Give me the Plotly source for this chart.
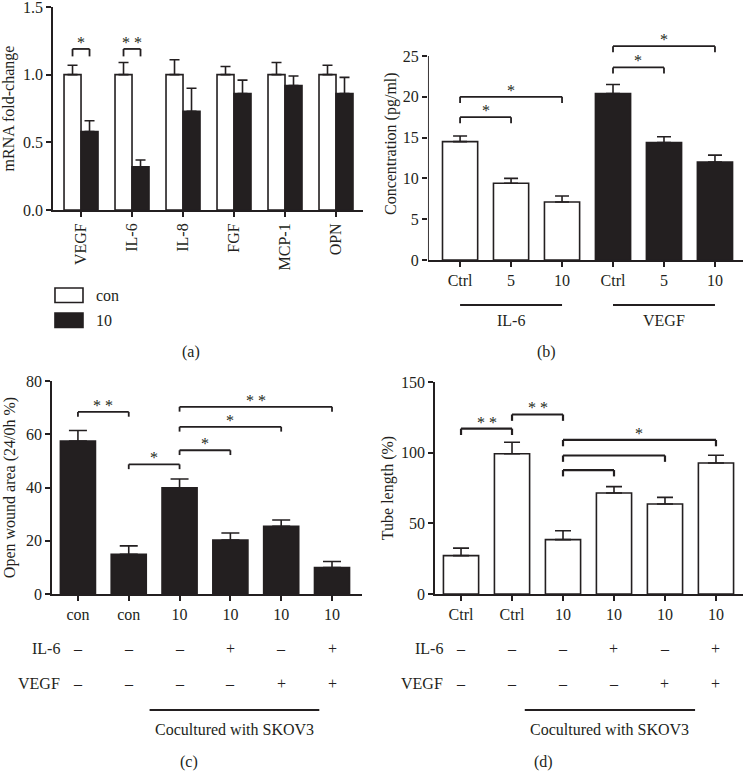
import plotly.graph_objects as go

# ---- data -----------------------------------------------------------------
# (a) mRNA fold-change
genes = ['VEGF', 'IL-6', 'IL-8', 'FGF', 'MCP-1', 'OPN']
groups_a = ['con', '10']
con_a = [1.0, 1.0, 1.0, 1.0, 1.0, 1.0]
con_a_err = [0.07, 0.09, 0.11, 0.06, 0.09, 0.07]
ten_a = [0.58, 0.32, 0.73, 0.86, 0.92, 0.86]
ten_a_err = [0.08, 0.05, 0.17, 0.10, 0.07, 0.12]

# (b) concentration
doses_b = ['Ctrl', '5', '10', 'Ctrl', '5', '10']
factors_b = ['IL-6', 'VEGF']
conc_b = [14.5, 9.4, 7.1, 20.4, 14.4, 12.0]
conc_b_err = [0.7, 0.6, 0.75, 1.1, 0.7, 0.85]

# (c) open wound area
cells_c = ['con', 'con', '10', '10', '10', '10']
wound_c = [57.5, 14.9, 39.9, 20.3, 25.4, 9.9]
wound_c_err = [3.9, 3.2, 3.3, 2.6, 2.4, 2.3]

# (d) tube length
cells_d = ['Ctrl', 'Ctrl', '10', '10', '10', '10']
tube_d = [27.2, 99.2, 38.5, 71.5, 63.7, 92.7]
tube_d_err = [5.3, 8.2, 6.3, 4.5, 4.7, 5.5]

il6_flags = ['–', '–', '–', '+', '–', '+']
vegf_flags = ['–', '–', '–', '–', '+', '+']

# significance brackets: (x0, x1, y, label)
sig_a = [(-1/6, 1/6, 1.19, '*'), (5/6, 7/6, 1.19, '* *')]
sig_b = [(0, 1, 17.5, '*'), (0, 2, 20.0, '*'), (3, 4, 23.6, '*'), (3, 5, 26.2, '*')]
sig_c = [(0, 1, 68.4, '* *'), (1, 2, 48.7, '*'), (2, 3, 54.0, '*'),
         (2, 4, 62.8, '*'), (2, 5, 70.3, '* *')]
sig_d = [(0, 1, 117, '* *'), (1, 2, 127, '* *'), (2, 5, 109, '*'),
         (2, 4, 98, ''), (2, 3, 87.7, '')]

# ---- style ----------------------------------------------------------------
INK = '#231f20'
FONT = 'Liberation Serif'
FS = 16
pos = list(range(6))

fig = go.Figure()

# (a)
fig.add_trace(go.Bar(x=pos, y=con_a, name=groups_a[0], xaxis='x', yaxis='y',
                     marker=dict(color='white', line=dict(color=INK, width=1.6)),
                     error_y=dict(type='data', array=con_a_err, arrayminus=[0]*6, symmetric=False,
                                  color=INK, thickness=1.6, width=5)))
fig.add_trace(go.Bar(x=pos, y=ten_a, name=groups_a[1], xaxis='x', yaxis='y',
                     marker=dict(color=INK, line=dict(color=INK, width=1.6)),
                     error_y=dict(type='data', array=ten_a_err, arrayminus=[0]*6, symmetric=False,
                                  color=INK, thickness=1.6, width=5)))

# (b)
fill_b = ['white'] * 3 + [INK] * 3
fig.add_trace(go.Bar(x=pos, y=conc_b, xaxis='x2', yaxis='y2', width=0.69,
                     marker=dict(color=fill_b, line=dict(color=INK, width=1.6)),
                     error_y=dict(type='data', array=conc_b_err, arrayminus=[0]*6, symmetric=False,
                                  color=INK, thickness=1.6, width=7)))
# y axis line of (b) stops at 25
fig.add_trace(go.Scatter(x=[-0.63, -0.63], y=[0, 25], xaxis='x2', yaxis='y2', mode='lines',
                         line=dict(color=INK, width=1.8), cliponaxis=False, hoverinfo='skip'))

# (c)
fig.add_trace(go.Bar(x=pos, y=wound_c, xaxis='x3', yaxis='y3', width=0.69,
                     marker=dict(color=INK, line=dict(color=INK, width=1.6)),
                     error_y=dict(type='data', array=wound_c_err, arrayminus=[0]*6, symmetric=False,
                                  color=INK, thickness=1.6, width=9)))

# (d)
fig.add_trace(go.Bar(x=pos, y=tube_d, xaxis='x4', yaxis='y4', width=0.69,
                     marker=dict(color='white', line=dict(color=INK, width=1.6)),
                     error_y=dict(type='data', array=tube_d_err, arrayminus=[0]*6, symmetric=False,
                                  color=INK, thickness=1.6, width=8)))


def xax(domain, rng, labels, anchor, angle=0):
    return dict(domain=domain, range=rng, anchor=anchor, tickvals=pos, ticktext=labels,
                showline=True, linecolor=INK, linewidth=1.8, ticks='outside', ticklen=5,
                tickwidth=1.6, tickcolor=INK, tickangle=angle, showgrid=False, zeroline=False,
                automargin=False, ticklabeloverflow='allow',
                tickfont=dict(size=FS, color=INK, family=FONT))


def yax(domain, rng, dtick, title, anchor, line=True, standoff=6, fmt=''):
    return dict(domain=domain, range=rng, anchor=anchor, dtick=dtick, showline=line,
                linecolor=INK, linewidth=1.8, ticks='outside', ticklen=5, tickwidth=1.6,
                tickcolor=INK, showgrid=False, zeroline=False, tickformat=fmt, automargin=False,
                ticklabeloverflow='allow', tickfont=dict(size=FS, color=INK, family=FONT),
                title=dict(text=title, standoff=standoff, font=dict(size=FS, color=INK, family=FONT)))


fig.update_layout(
    width=743, height=784, margin=dict(l=0, r=0, t=0, b=0, autoexpand=False),
    paper_bgcolor='white', plot_bgcolor='white', showlegend=False,
    barmode='group', bargap=1/3, bargroupgap=0,
    font=dict(family=FONT, color=INK, size=FS),
    xaxis=xax([0.0713, 0.4886], [-0.55, 5.53], genes, 'y', angle=-90),
    yaxis=yax([0.7321, 0.9911], [0, 1.5], 0.5, 'mRNA fold-change', 'x', fmt='.1f'),
    xaxis2=xax([0.576, 1.0], [-0.63, 5.55], doses_b, 'y2'),
    yaxis2=dict(yax([0.6684, 0.965], [0, 28.5], 5, 'Concentration (pg/ml)', 'x2', line=False, standoff=2),
                tickvals=[0, 5, 10, 15, 20, 25]),
    xaxis3=xax([0.070, 0.4872], [-0.51, 5.59], cells_c, 'y3'),
    yaxis3=yax([0.2423, 0.514], [0, 80], 20, 'Open wound area (24/0h %)', 'x3'),
    xaxis4=xax([0.5855, 1.0], [-0.51, 5.53], cells_d, 'y4'),
    yaxis4=yax([0.2423, 0.5128], [0, 150], 50, 'Tube length (%)', 'x4', standoff=3),
)

shapes = []
annotations = []


def add_brackets(sigs, xr, yr, drop, lw=1.8):
    for x0, x1, y, lab in sigs:
        line = dict(color=INK, width=lw)
        shapes.append(dict(type='line', xref=xr, yref=yr, x0=x0, x1=x1, y0=y, y1=y, line=line))
        shapes.append(dict(type='line', xref=xr, yref=yr, x0=x0, x1=x0, y0=y, y1=y - drop, line=line))
        shapes.append(dict(type='line', xref=xr, yref=yr, x0=x1, x1=x1, y0=y, y1=y - drop, line=line))
        if lab:
            annotations.append(dict(xref=xr, yref=yr, x=(x0 + x1) / 2, y=y, text=lab, showarrow=False,
                                    yanchor='bottom', yshift=-4, font=dict(size=FS, color=INK)))


add_brackets(sig_a, 'x', 'y', 0.055)
add_brackets(sig_b, 'x2', 'y2', 0.75)
add_brackets(sig_c, 'x3', 'y3', 1.8)
add_brackets(sig_d, 'x4', 'y4', 4.5, lw=2.2)

# legend of (a)
legend_fill = ['white', INK]
for k, name in enumerate(groups_a):
    top = 0.6327 - k * 0.0319
    shapes.append(dict(type='rect', xref='paper', yref='paper', x0=0.074, x1=0.1117,
                       y0=top - 0.0185, y1=top, fillcolor=legend_fill[k], line=dict(color=INK, width=1.6)))
    annotations.append(dict(xref='paper', yref='paper', x=0.1265, y=top - 0.0092, text=name,
                            showarrow=False, xanchor='left', yanchor='middle', font=dict(size=FS, color=INK)))

# group lines under (b)
for g, name in enumerate(factors_b):
    shapes.append(dict(type='line', xref='x2', yref='paper', x0=3 * g, x1=3 * g + 2, y0=0.611, y1=0.611,
                       line=dict(color=INK, width=2)))
    annotations.append(dict(xref='x2', yref='paper', x=3 * g + 1, y=0.5918, text=name, showarrow=False,
                            yanchor='middle', font=dict(size=FS, color=INK)))

# treatment rows under (c) and (d)
for xr, (l0, l1) in [('x3', (1.41, 4.75)), ('x4', (1.25, 4.59))]:
    for row_y, row_name, flags in [(0.1722, 'IL-6', il6_flags), (0.1288, 'VEGF', vegf_flags)]:
        annotations.append(dict(xref=xr, yref='paper', x=-0.32, y=row_y, text=row_name, showarrow=False,
                                xanchor='right', yanchor='middle', font=dict(size=FS, color=INK)))
        for i, f in enumerate(flags):
            annotations.append(dict(xref=xr, yref='paper', x=i, y=row_y, text=f, showarrow=False,
                                    yanchor='middle', font=dict(size=FS, color=INK)))
    shapes.append(dict(type='line', xref=xr, yref='paper', x0=l0, x1=l1, y0=0.0944, y1=0.0944,
                       line=dict(color=INK, width=2)))
    annotations.append(dict(xref=xr, yref='paper', x=(l0 + l1) / 2, y=0.0689, text='Cocultured with SKOV3',
                            showarrow=False, yanchor='middle', font=dict(size=FS, color=INK)))

# panel labels
for lab, px, py in [('(a)', 0.2423, 0.551), ('(b)', 0.751, 0.551), ('(c)', 0.2396, 0.028), ('(d)', 0.747, 0.028)]:
    annotations.append(dict(xref='paper', yref='paper', x=px, y=py, text=lab, showarrow=False,
                            yanchor='middle', font=dict(size=FS, color=INK)))

fig.update_layout(shapes=shapes, annotations=annotations)
# the page's default body margin would shift the whole figure by 8px
fig.write_html("out.html", config={'displayModeBar': False},
               post_script="document.body.style.margin='0';")
